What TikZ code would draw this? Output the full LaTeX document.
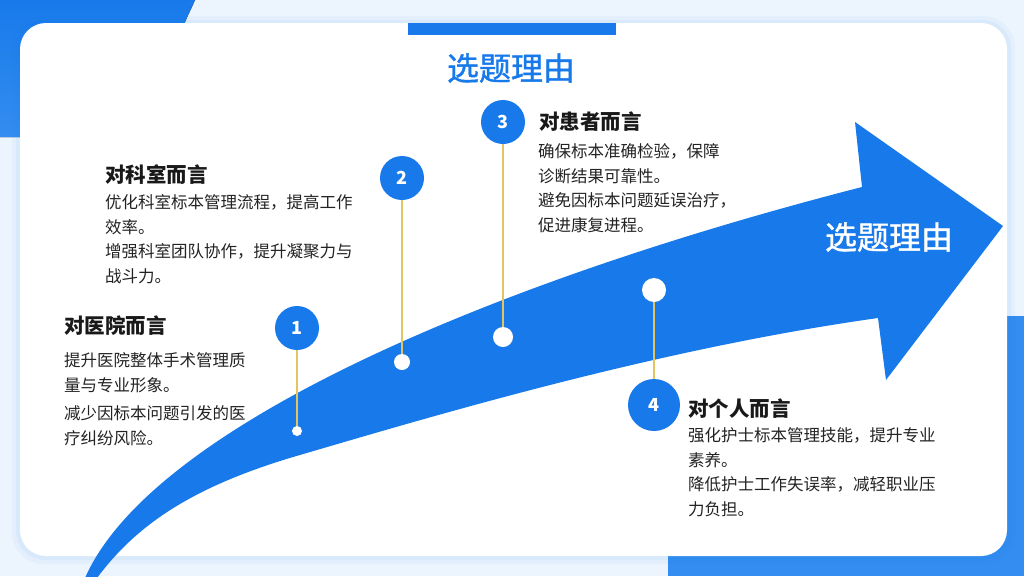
\documentclass[tikz,border=0pt]{standalone}
\usepackage{fontspec}
\setmainfont{Noto Sans CJK SC}
\newfontfamily\titlefont{Noto Sans CJK SC}[FakeBold=1.2]
\usepackage{xcolor}
\usepackage{tikz}
\usetikzlibrary{positioning}
\definecolor{mainblue}{RGB}{24,122,234}
\definecolor{sideblue}{RGB}{52,141,240}
\definecolor{paleblue}{RGB}{236,244,253}
\definecolor{linegold}{RGB}{226,196,96}
\definecolor{textdark}{RGB}{35,35,35}

\begin{document}
\begin{tikzpicture}[x=1pt,y=-1pt, every node/.style={inner sep=0pt},
  numdot/.style={circle,fill=mainblue,minimum size=44pt,text=white,font=\fontsize{18}{18}\selectfont\bfseries},
  pindot/.style={circle,fill=white},
  stem/.style={draw=linegold,line width=1.2pt},
  headtext/.style={font=\fontsize{20.5}{24}\selectfont\bfseries,text=black!90},
  bodytext/.style={font=\fontsize{16.5}{24.5}\selectfont,text=textdark,align=left,anchor=north west},
  bigtitle/.style={font=\fontsize{32}{32}\titlefont}]
  \useasboundingbox (0,0) rectangle (1024,576);
  \clip (0,0) rectangle (1024,576);
  % background and blue corner blocks
  \fill[paleblue] (0,0) rectangle (1024,576);
  \fill[top color=mainblue,bottom color=sideblue] (0,0) -- (195,0) .. controls (190,12) and (182,25) .. (178,45) -- (178,137) -- (0,137) -- cycle;
  \fill[sideblue] (668,316) rectangle (1024,576);
  % card with soft glow
  \fill[mainblue,opacity=0.04,rounded corners=32pt] (12,16) rectangle (1015,564);
  \fill[mainblue,opacity=0.05,rounded corners=29pt] (16,20) rectangle (1011,560);
  \fill[white,rounded corners=26pt] (20,23) rectangle (1007,556);
  \fill[mainblue] (408,23) rectangle (616,35);
  \node[bigtitle,text=mainblue] (title) at (511,68) {选题理由};
  % big arrow
  \fill[mainblue] (85,578) .. controls (150,430) and (480,285) .. (862,187)
    -- (855,122) -- (1003,226) -- (886,380) -- (878,318)
    .. controls (650,350) and (420,420) .. (293,457)
    .. controls (200,485) and (140,520) .. (97,578) -- cycle;
  \node[bigtitle,text=white] (arrowlabel) at (889,237) {选题理由};
  % markers
  \node[numdot] (n1) at (297,328) {1};
  \node[pindot,minimum size=10pt] (d1) at (297,431) {};
  \node[numdot] (n2) at (402,178) {2};
  \node[pindot,minimum size=16pt] (d2) at (402,362) {};
  \node[numdot] (n3) at (503,122) {3};
  \node[pindot,minimum size=20pt] (d3) at (503,337) {};
  \node[pindot,minimum size=24pt] (d4) at (654,290) {};
  \node[numdot,minimum size=52pt] (n4) at (654,405) {4};
  \draw[stem] (n1) -- (d1);
  \draw[stem] (n2) -- (d2);
  \draw[stem] (n3) -- (d3);
  \draw[stem] (d4) -- (n4);
  % texts
  \node[headtext,anchor=west] (hosp) at (64,326) {对医院而言};
  \node[bodytext] (hospbody) at (64,352.7) {提升医院整体手术管理质\\量与专业形象。\\[4pt]减少因标本问题引发的医\\疗纠纷风险。};
  \node[headtext,anchor=west] (dept) at (105,175) {对科室而言};
  \node[bodytext] (deptbody) at (105,194.7) {优化科室标本管理流程，提高工作\\效率。\\增强科室团队协作，提升凝聚力与\\战斗力。};
  \node[headtext,right=14pt of n3] (pat) {对患者而言};
  \node[bodytext] (patbody) at (538,143.7) {确保标本准确检验，保障\\诊断结果可靠性。\\避免因标本问题延误治疗，\\促进康复进程。};
  \node[headtext,anchor=west] (self) at (688,409) {对个人而言};
  \node[bodytext] (selfbody) at (688,427.7) {强化护士标本管理技能，提升专业\\素养。\\降低护士工作失误率，减轻职业压\\力负担。};
\end{tikzpicture}
\end{document}
